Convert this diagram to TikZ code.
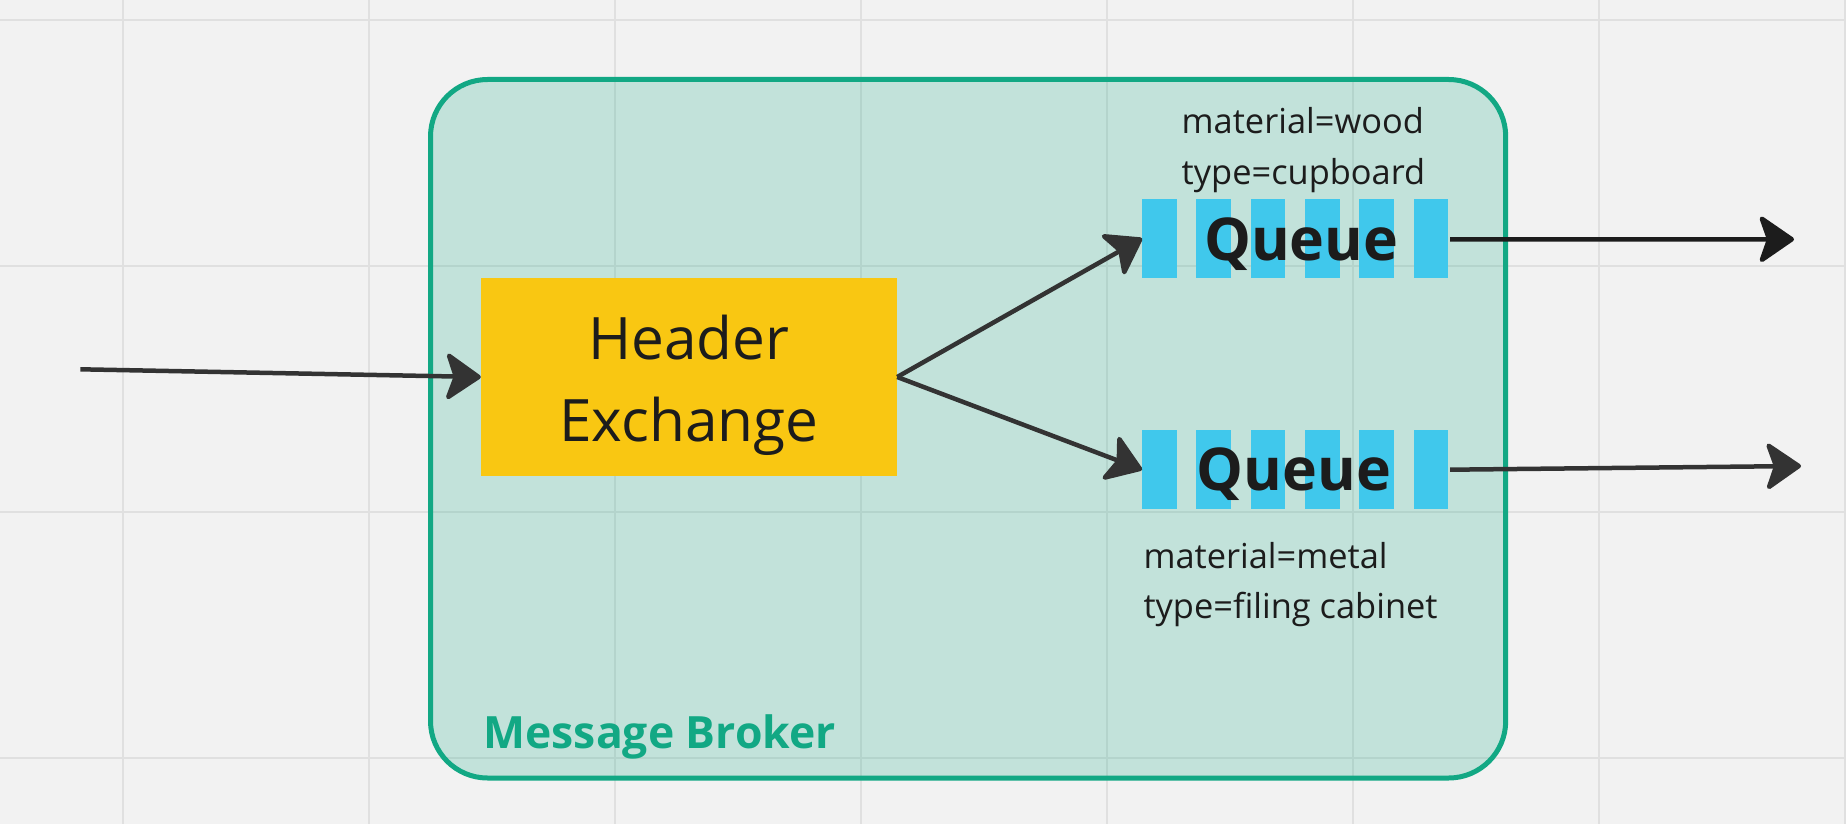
\documentclass[tikz,border=0pt]{standalone}
\usepackage{fontspec}
\setmainfont{Open Sans}
\usetikzlibrary{arrows.meta}
\definecolor{bg}{HTML}{F2F2F2}
\definecolor{gridc}{HTML}{E0E0E0}
\definecolor{teal}{HTML}{12A884}
\definecolor{hxfill}{HTML}{F9C712}
\definecolor{qblue}{HTML}{40C8EC}
\definecolor{ink}{HTML}{1C1C1C}
\definecolor{arr}{HTML}{333333}
\tikzset{
  gridline/.style={draw=gridc,line width=2pt},
  broker/.style={draw=teal,line width=5pt,fill=teal,fill opacity=0.21,draw opacity=1,rounded corners=57pt,minimum width=1075.2pt,minimum height=698.5pt,inner sep=0pt},
  hxbox/.style={fill=hxfill,minimum width=416pt,minimum height=198pt,inner sep=0pt},
  queuebox/.style={minimum width=305.7pt,minimum height=78.7pt,inner sep=0pt},
  qtext/.style={font=\fontsize{59}{70}\selectfont\bfseries,text=ink,inner sep=0pt,anchor=base},
  hxtext/.style={font=\fontsize{58.5}{70}\selectfont,text=ink,inner sep=0pt,anchor=base},
  lbl/.style={font=\fontsize{34.4}{48}\selectfont,text=ink,inner sep=0pt,anchor=base west},
  mbtext/.style={font=\fontsize{44.5}{54}\selectfont\bfseries,text=teal,inner sep=0pt,anchor=base west},
  conn/.style={draw=arr,line width=4.5pt,-{Stealth[length=38pt,width=52pt,inset=9pt,round]}},
}
\begin{document}
\begin{tikzpicture}[x=1pt,y=-1pt]
\fill[bg] (0,0) rectangle (1846,824);
\useasboundingbox (0,0) rectangle (1846,824);
\foreach \gx in {123,369,615,861,1107,1353,1599,1845}
  \draw[gridline] (\gx,0) -- (\gx,824);
\foreach \gy in {20,266,512,758}
  \draw[gridline] (0,\gy) -- (1846,\gy);

\node[broker] (mb) at (968.1,428.75) {};
\node[mbtext] (mbl) at (483.3,748.3) {Message Broker};

\node[hxbox] (hx) at (689,377) {};
\node[hxtext] (hx1) at (689,359.3) {Header};
\node[hxtext] (hx2) at (689,441) {Exchange};

\node[queuebox] (q1) at (1295.15,238.4) {};
\node[queuebox] (q2) at (1295.15,469.7) {};
\foreach \i in {0,...,5}{
  \fill[qblue] ([xshift=\i*54.3pt]q1.north west) rectangle ++(34.7,78.7);
  \fill[qblue] ([xshift=\i*54.3pt]q2.north west) rectangle ++(34.7,78.7);
}
\node[qtext] (q1t) at (1301.3,260) {Queue};
\node[qtext] (q2t) at (1294,490) {Queue};

\node[lbl] (l1a) at (1181.5,133) {material=wood};
\node[lbl] (l1b) at (1181.5,184) {type=cupboard};
\node[lbl] (l2a) at (1143.3,568.3) {material=metal};
\node[lbl] (l2b) at (1143.3,618.5) {type=filing cabinet};

\coordinate (in) at (80.3,369.3);
\coordinate (out1) at (1794,239.3);
\coordinate (out2) at (1801,466);

\draw[conn] (in) -- (hx.west);
\draw[conn] (hx.east) -- (q1.west);
\draw[conn] (hx.east) -- (q2.west);
\draw[conn,draw=ink] ([xshift=2pt,yshift=-1pt]q1.east) -- (out1);
\draw[conn] ([xshift=2pt]q2.east) -- (out2);
\end{tikzpicture}
\end{document}
